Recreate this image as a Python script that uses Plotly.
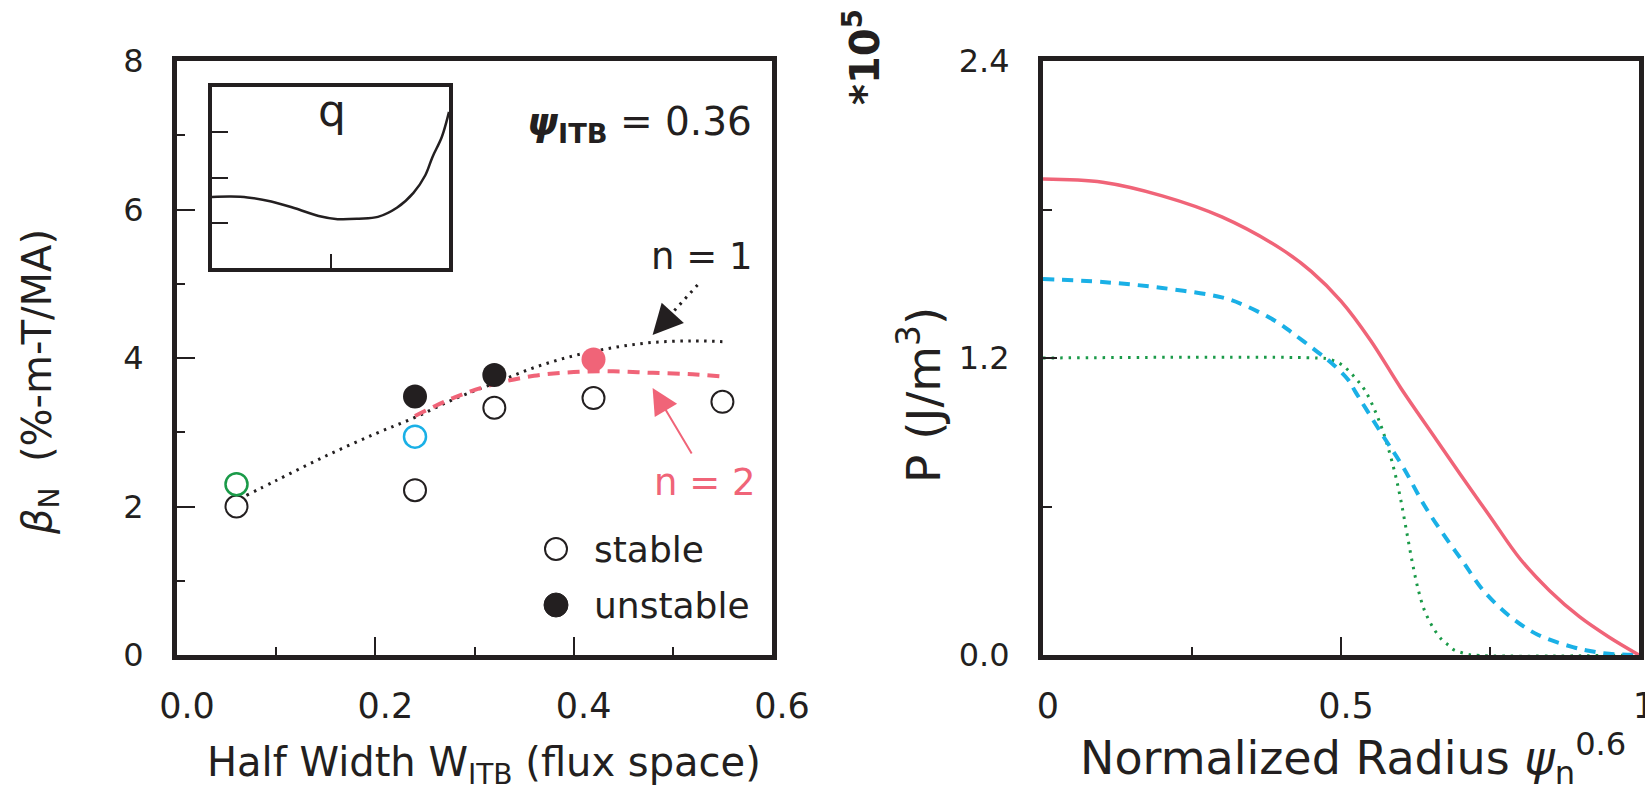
import plotly.graph_objects as go

W, H = 1645, 793
INK = "#231f20"
PINK = "#f06478"
CYAN = "#1ab0e6"
GREEN = "#1a9a48"
FONT = "DejaVu Sans, Liberation Sans, Arial, sans-serif"

# ---------------- left panel data ----------------
stable_w = [0.06, 0.24, 0.32, 0.42, 0.55]
stable_beta = [2.00, 2.22, 3.33, 3.46, 3.41]
stable_green_w = [0.06]
stable_green_beta = [2.30]
stable_cyan_w = [0.24]
stable_cyan_beta = [2.94]
unstable_w = [0.24, 0.32]
unstable_beta = [3.48, 3.77]
unstable_pink_w = [0.42]
unstable_pink_beta = [3.98]

n1_w = [0.07, 0.10, 0.15, 0.20, 0.24, 0.28, 0.32, 0.36, 0.40, 0.44, 0.48, 0.52, 0.55]
n1_beta = [2.15, 2.35, 2.68, 2.98, 3.20, 3.45, 3.66, 3.87, 4.03, 4.14, 4.21, 4.23, 4.22]
n2_w = [0.24, 0.28, 0.32, 0.36, 0.40, 0.44, 0.48, 0.52, 0.55]
n2_beta = [3.22, 3.47, 3.65, 3.76, 3.81, 3.82, 3.80, 3.78, 3.75]

# inset q profile
q_x = [0.0, 0.08, 0.15, 0.25, 0.35, 0.45, 0.53, 0.62, 0.70, 0.78, 0.85, 0.90, 0.93, 0.97, 1.0]
q_y = [1.57, 1.58, 1.56, 1.47, 1.32, 1.15, 1.08, 1.09, 1.13, 1.33, 1.66, 2.05, 2.45, 2.90, 3.45]

# ---------------- right panel data ----------------
r_pink = [0.0, 0.1, 0.2, 0.3, 0.4, 0.45, 0.5, 0.55, 0.6, 0.66, 0.7, 0.75, 0.8, 0.85, 0.9, 0.95, 1.0]
p_pink = [1.923, 1.91, 1.855, 1.77, 1.64, 1.55, 1.43, 1.27, 1.08, 0.87, 0.73, 0.56, 0.39, 0.26, 0.155, 0.072, 0.0]
r_cyan = [0.0, 0.1, 0.2, 0.3, 0.336, 0.391, 0.419, 0.456, 0.484, 0.512, 0.525, 0.572, 0.604, 0.641,
          0.678, 0.705, 0.738, 0.784, 0.831, 0.889, 0.918, 0.95, 1.0]
p_cyan = [1.519, 1.507, 1.483, 1.445, 1.415, 1.348, 1.30, 1.233, 1.18, 1.112, 1.06, 0.88, 0.76, 0.60,
          0.466, 0.376, 0.263, 0.155, 0.081, 0.032, 0.016, 0.005, 0.0]
r_green = [0.0, 0.46, 0.48, 0.50, 0.52, 0.54, 0.56, 0.575, 0.59, 0.60, 0.61, 0.62, 0.63, 0.64,
           0.65, 0.66, 0.67, 0.68, 0.69, 0.705, 0.72, 1.0]
p_green = [1.2, 1.2, 1.195, 1.175, 1.13, 1.07, 0.97, 0.87, 0.74, 0.63, 0.50, 0.37, 0.26, 0.18,
           0.13, 0.09, 0.06, 0.04, 0.02, 0.008, 0.0, 0.0]

# tick labels
left_x_ticks = [0, 0.2, 0.4, 0.6]
left_x_text = ["0.0", "0.2", "0.4", "0.6"]
left_y_ticks = [0, 2, 4, 6, 8]
right_x_ticks = [0, 0.5, 1]
right_x_text = ["0", "0.5", "1"]
right_y_ticks = [0, 1.2, 2.4]
right_y_text = ["0.0", "1.2", "2.4"]


def px2x(p):
    return p / W


def px2y(p):
    return 1 - p / H


fig = go.Figure()

fig.add_trace(go.Scatter(x=n1_w, y=n1_beta, mode="lines", line=dict(color=INK, width=3, dash="2.5px,5.5px"),
                         xaxis="x", yaxis="y", line_shape="spline"))
fig.add_trace(go.Scatter(x=n2_w, y=n2_beta, mode="lines", line=dict(color=PINK, width=4, dash="12px,8px"),
                         xaxis="x", yaxis="y", line_shape="spline"))
fig.add_trace(go.Scatter(x=stable_w, y=stable_beta, mode="markers",
                         marker=dict(symbol="circle-open", size=22, color=INK, line=dict(width=2)),
                         xaxis="x", yaxis="y"))
fig.add_trace(go.Scatter(x=stable_green_w, y=stable_green_beta, mode="markers",
                         marker=dict(symbol="circle-open", size=22, color=GREEN, line=dict(width=2.5)),
                         xaxis="x", yaxis="y"))
fig.add_trace(go.Scatter(x=stable_cyan_w, y=stable_cyan_beta, mode="markers",
                         marker=dict(symbol="circle-open", size=22, color=CYAN, line=dict(width=2.5)),
                         xaxis="x", yaxis="y"))
fig.add_trace(go.Scatter(x=unstable_w, y=unstable_beta, mode="markers",
                         marker=dict(symbol="circle", size=24, color=INK),
                         xaxis="x", yaxis="y"))
fig.add_trace(go.Scatter(x=unstable_pink_w, y=unstable_pink_beta, mode="markers",
                         marker=dict(symbol="circle", size=24, color=PINK),
                         xaxis="x", yaxis="y"))

fig.add_trace(go.Scatter(x=q_x, y=q_y, mode="lines", line=dict(color=INK, width=2.5), line_shape="spline",
                         xaxis="x3", yaxis="y3"))

fig.add_trace(go.Scatter(x=r_green, y=p_green, mode="lines", line=dict(color=GREEN, width=3, dash="2.5px,6px"),
                         line_shape="spline", xaxis="x2", yaxis="y2"))
fig.add_trace(go.Scatter(x=r_cyan, y=p_cyan, mode="lines", line=dict(color=CYAN, width=4, dash="11px,8px"),
                         line_shape="spline", xaxis="x2", yaxis="y2"))
fig.add_trace(go.Scatter(x=r_pink, y=p_pink, mode="lines", line=dict(color=PINK, width=3.5),
                         line_shape="spline", xaxis="x2", yaxis="y2"))

axis_common = dict(showline=True, linewidth=5, linecolor=INK, mirror=True, showgrid=False, zeroline=False,
                   ticks="inside", tickcolor=INK, tickwidth=2, automargin=False)
inset_common = dict(axis_common, linewidth=4)
xfont = dict(family=FONT, size=35, color=INK)
yfont = dict(family=FONT, size=32, color=INK)

fig.update_layout(
    width=W, height=H, margin=dict(l=0, r=0, t=0, b=0, pad=0, autoexpand=False),
    paper_bgcolor="white", plot_bgcolor="rgba(0,0,0,0)", showlegend=False,
    xaxis=dict(domain=[177 / W, 772 / W], range=[0, 0.6], tickvals=left_x_ticks,
               ticktext=left_x_text, ticklen=18, ticklabelstandoff=16, ticklabelshift=10,
               ticklabeloverflow="allow", tickfont=xfont,
               minor=dict(tickvals=[0.1, 0.3, 0.5], ticklen=8, ticks="inside", tickcolor=INK, tickwidth=2),
               anchor="y", **axis_common),
    yaxis=dict(domain=[1 - 655 / H, 1 - 61 / H], range=[0, 8], tickvals=left_y_ticks,
               ticklen=18, ticklabelstandoff=22, ticklabeloverflow="allow", tickfont=yfont,
               minor=dict(tickvals=[1, 3, 5, 7], ticklen=8, ticks="inside", tickcolor=INK, tickwidth=2),
               anchor="x", **axis_common),
    xaxis2=dict(domain=[1043 / W, 1639 / W], range=[0, 1], tickvals=right_x_ticks, ticktext=right_x_text,
                ticklen=18, ticklabelstandoff=16, ticklabelshift=5, ticklabeloverflow="allow", tickfont=xfont,
                layer="below traces",
                minor=dict(tickvals=[0.25, 0.75], ticklen=8, ticks="inside", tickcolor=INK, tickwidth=2),
                anchor="y2", **axis_common),
    yaxis2=dict(domain=[1 - 655 / H, 1 - 61 / H], range=[0, 2.4], tickvals=right_y_ticks,
                ticktext=right_y_text, ticklen=14, ticklabelstandoff=22, ticklabeloverflow="allow",
                tickfont=yfont,
                minor=dict(tickvals=[0.6, 1.8], ticklen=9, ticks="inside", tickcolor=INK, tickwidth=2),
                anchor="x2", **axis_common),
    xaxis3=dict(domain=[212 / W, 449 / W], range=[0, 1], tickvals=[0.5], ticklen=14, showticklabels=False,
                anchor="y3", **inset_common),
    yaxis3=dict(domain=[1 - 268 / H, 1 - 87 / H], range=[0, 4], tickvals=[1, 2, 3], ticklen=16,
                showticklabels=False, anchor="x3", **inset_common),
)

ann = []


def txt(text, xp, yp, size, color=INK, angle=0, xanchor="center", yanchor="middle"):
    ann.append(dict(text=text, x=px2x(xp), y=px2y(yp), xref="paper", yref="paper", showarrow=False,
                    font=dict(family=FONT, size=size, color=color), textangle=angle,
                    xanchor=xanchor, yanchor=yanchor))


txt("Half Width W<sub>ITB</sub> (flux space)", 484, 765, 40)
txt("<i>β</i><sub>N</sub>\u00a0\u00a0(%-m-T/MA)", 40, 382, 40, angle=-90)
txt("Normalized Radius <i>ψ</i><sub>n</sub><sup>0.6</sup>", 1078, 758, 46, xanchor="left")
txt("P (J/m<sup>3</sup>)", 920, 395, 47, angle=-90)
txt("<b>*10<sup>5</sup></b>", 862, 57, 40, angle=-90)
txt("<b><i>ψ</i></b><sub><b>ITB</b></sub> = 0.36", 525, 124, 39, xanchor="left")
txt("n = 1", 702, 256, 37)
txt("n = 2", 705, 482, 37, color=PINK)
txt("q", 332, 110, 44)
txt("stable", 592, 549, 36, xanchor="left")
txt("unstable", 592, 605, 36, xanchor="left")


def dx(p):
    return (p - 177) / 992.5


def dy(p):
    return (655 - p) / 74.25


ann.append(dict(x=dx(653), y=dy(335), ax=dx(673), ay=dy(313), xref="x", yref="y", axref="x", ayref="y",
                text="", showarrow=True, arrowhead=2, arrowsize=3, arrowwidth=2, arrowcolor=INK))
ann.append(dict(x=dx(653), y=dy(388), ax=dx(693), ay=dy(455), xref="x", yref="y", axref="x", ayref="y",
                text="", showarrow=True, arrowhead=2, arrowsize=2.6, arrowwidth=2, arrowcolor=PINK))
fig.update_layout(annotations=ann)

shapes = [
    dict(type="line", xref="x", yref="y", x0=dx(698), y0=dy(285), x1=dx(668), y1=dy(318),
         line=dict(color=INK, width=3, dash="2.5px,5.5px")),
    dict(type="circle", xref="paper", yref="paper", xsizemode="pixel", ysizemode="pixel",
         xanchor=px2x(556), yanchor=px2y(549), x0=-11, x1=11, y0=-11, y1=11,
         line=dict(color=INK, width=2)),
    dict(type="circle", xref="paper", yref="paper", xsizemode="pixel", ysizemode="pixel",
         xanchor=px2x(556), yanchor=px2y(605), x0=-12, x1=12, y0=-12, y1=12,
         line=dict(color=INK, width=1), fillcolor=INK),
]
fig.update_layout(shapes=shapes)

fig.write_html("out.html")
